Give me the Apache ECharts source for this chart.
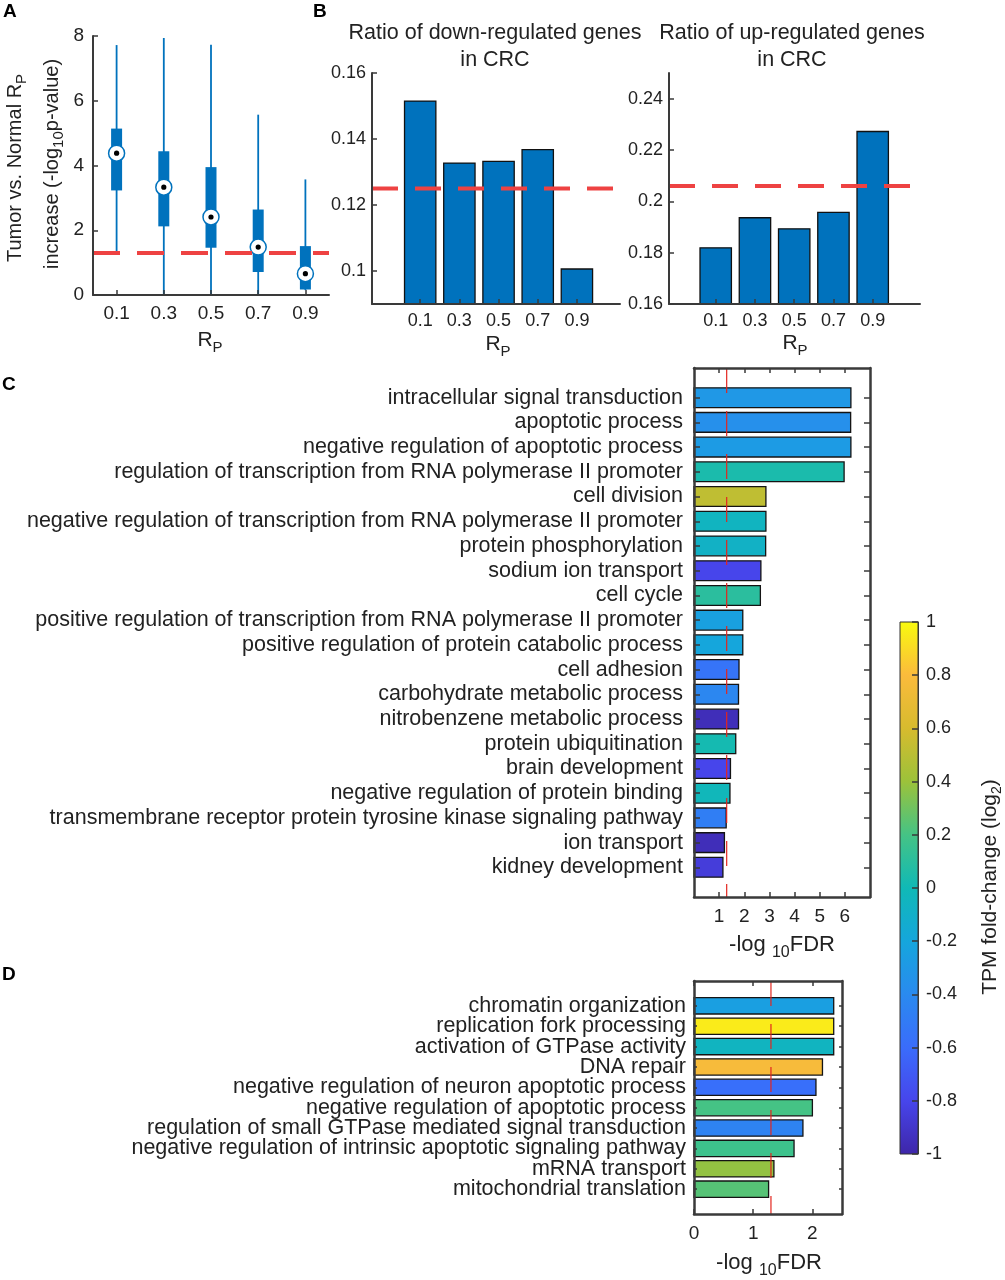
<!DOCTYPE html>
<html>
<head>
<meta charset="utf-8">
<title>CRC Rp figure</title>
<script src="https://cdn.jsdelivr.net/npm/echarts@6.0.0/dist/echarts.min.js"></script>
<style>
  html, body { margin: 0; padding: 0; background: #fff; }
  #chart { width: 1005px; height: 1280px; }
</style>
</head>
<body>
<div id="chart"></div>
<script>
// ---------- data ----------
var rpValues = [0.1, 0.3, 0.5, 0.7, 0.9];

// A - tumor vs normal Rp increase, box summary (-log10 p)
var boxWhiskerLow  = [1.28, 0, 0, 0, 0.15];
var boxQ1          = [3.23, 2.12, 1.46, 0.71, 0.17];
var boxMedian      = [4.38, 3.33, 2.41, 1.48, 0.66];
var boxQ3          = [5.14, 4.44, 3.95, 2.64, 1.51];
var boxWhiskerHigh = [7.72, 7.94, 7.73, 5.57, 3.57];
var pCut = 1.3;
var aTicksY = [0, 2, 4, 6, 8];

// B - ratio of down / up regulated genes
var downRatio = [0.1515, 0.1327, 0.1332, 0.1368, 0.1006];
var downAll = 0.125;
var downTicksY = [0.1, 0.12, 0.14, 0.16];
var upRatio = [0.1819, 0.1936, 0.1893, 0.1957, 0.2272];
var upAll = 0.206;
var upTicksY = [0.16, 0.18, 0.2, 0.22, 0.24];

// C - GO terms, -log10 FDR and TPM fold-change (log2)
var cTerms = [
  'intracellular signal transduction',
  'apoptotic process',
  'negative regulation of apoptotic process',
  'regulation of transcription from RNA polymerase II promoter',
  'cell division',
  'negative regulation of transcription from RNA polymerase II promoter',
  'protein phosphorylation',
  'sodium ion transport',
  'cell cycle',
  'positive regulation of transcription from RNA polymerase II promoter',
  'positive regulation of protein catabolic process',
  'cell adhesion',
  'carbohydrate metabolic process',
  'nitrobenzene metabolic process',
  'protein ubiquitination',
  'brain development',
  'negative regulation of protein binding',
  'transmembrane receptor protein tyrosine kinase signaling pathway',
  'ion transport',
  'kidney development'
];
var cFdr  = [6.24, 6.23, 6.24, 5.97, 2.86, 2.86, 2.85, 2.66, 2.64, 1.94,
             1.94, 1.79, 1.77, 1.77, 1.66, 1.45, 1.43, 1.28, 1.21, 1.15];
var cFold = [-0.30, -0.36, -0.28, 0.04, 0.52, -0.05, -0.08, -0.80, 0.10, -0.24,
             -0.20, -0.55, -0.42, -0.95, 0.02, -0.80, -0.02, -0.48, -0.95, -0.85];
var cTicksX = [1, 2, 3, 4, 5, 6];

// D
var dTerms = [
  'chromatin organization',
  'replication fork processing',
  'activation of GTPase activity',
  'DNA repair',
  'negative regulation of neuron apoptotic process',
  'negative regulation of apoptotic process',
  'regulation of small GTPase mediated signal transduction',
  'negative regulation of intrinsic apoptotic signaling pathway',
  'mRNA transport',
  'mitochondrial translation'
];
var dFdr  = [2.36, 2.36, 2.36, 2.17, 2.06, 2.00, 1.84, 1.69, 1.35, 1.26];
var dFold = [-0.25, 0.95, -0.05, 0.78, -0.58, 0.20, -0.45, 0.17, 0.38, 0.24];
var dTicksX = [0, 1, 2];

var fdrCut = 1.3;

// colour bar
var cbTicks = [-1, -0.8, -0.6, -0.4, -0.2, 0, 0.2, 0.4, 0.6, 0.8, 1];
var parula = ['#3e26a8', '#4745eb', '#3a6cfb', '#2a8aef', '#15a6dc', '#10b9b6',
              '#45c385', '#9cc23a', '#d7bb2e', '#fbbb3c', '#f9fb0e'];

// ---------- helpers ----------
var font = 'Liberation Sans, Arial, sans-serif';
var ink = '#222';
var axisInk = '#3a3a3a';
var blue = '#0072BD';
var red = '#ee4242';

function idx(n) { var a = []; for (var i = 0; i < n; i++) a.push(i); return a; }
function fmtNum(v) { return String(+(+v).toFixed(2)); }

function mkAxis(grid, pos, min, max, o) {
  o = o || {};
  var a = {
    type: 'value', gridIndex: grid, position: pos, min: min, max: max,
    inverse: !!o.inverse, z: 6,
    axisLine: { show: o.line !== false, onZero: false, lineStyle: { color: axisInk, width: o.lineWidth || 2 } },
    axisTick: { show: o.tickShow !== false, inside: true, length: o.tickLen || 5, lineStyle: { color: axisInk, width: 1.5 } },
    axisLabel: { show: o.labels !== false, color: ink, fontFamily: font, fontSize: o.fontSize || 18,
                 margin: o.margin == null ? 8 : o.margin, formatter: o.formatter || fmtNum,
                 showMinLabel: true, showMaxLabel: true, hideOverlap: false },
    splitLine: { show: false }
  };
  if (o.ticks) { a.axisTick.customValues = o.ticks; a.axisLabel.customValues = o.labelValues || o.ticks; }
  return a;
}

function renderBox(params, api) {
  var x = api.value(0);
  var lo = api.coord([x, api.value(1)]);
  var q1 = api.coord([x, api.value(2)]);
  var md = api.coord([x, api.value(3)]);
  var q3 = api.coord([x, api.value(4)]);
  var hi = api.coord([x, api.value(5)]);
  return { type: 'group', children: [
    { type: 'line', shape: { x1: lo[0], y1: lo[1], x2: hi[0], y2: hi[1] }, style: { stroke: blue, lineWidth: 1.8 } },
    { type: 'rect', shape: { x: q1[0] - 5.5, y: q3[1], width: 11, height: q1[1] - q3[1] }, style: { fill: blue } },
    { type: 'circle', shape: { cx: md[0], cy: md[1], r: 8 }, style: { fill: '#fff', stroke: blue, lineWidth: 1.5 } },
    { type: 'circle', shape: { cx: md[0], cy: md[1], r: 2.6 }, style: { fill: '#000' } }
  ]};
}

// vertical bars for B, from the bottom of the plot box
function renderVBar(params, api) {
  var x = api.value(0);
  var top = api.coord([x, api.value(1)]);
  var w = api.size([0.16, 0])[0];
  var base = params.coordSys.y + params.coordSys.height;
  return { type: 'rect', shape: { x: top[0] - w / 2, y: top[1], width: w, height: base - top[1] },
           style: { fill: blue, stroke: '#111', lineWidth: 1.3 } };
}

// horizontal bars for C and D, coloured by the visualMap
function renderHBar(params, api) {
  var v = api.value(0), i = api.value(1);
  var a = api.coord([0, i - 0.4]), b = api.coord([v, i + 0.4]);
  return { type: 'rect',
           shape: { x: a[0], y: Math.min(a[1], b[1]), width: b[0] - a[0], height: Math.abs(b[1] - a[1]) },
           style: { fill: api.visual('color'), stroke: '#141414', lineWidth: 1.3 } };
}

function renderColorbar(params, api) {
  var p0 = api.coord([api.value(0), api.value(1)]);
  var p1 = api.coord([api.value(2), api.value(3)]);
  var stops = parula.map(function (c, i) { return { offset: i / (parula.length - 1), color: c }; });
  return { type: 'rect',
           shape: { x: p0[0], y: p1[1], width: p1[0] - p0[0], height: p0[1] - p1[1] },
           style: { fill: new echarts.graphic.LinearGradient(0, 1, 0, 0, stops), stroke: '#333', lineWidth: 1 } };
}

function rich(size, subSize) {
  return {
    t: { fontSize: size, fontFamily: font, fill: ink, lineHeight: size + 4, verticalAlign: 'middle' },
    s: { fontSize: subSize, fontFamily: font, fill: ink, lineHeight: subSize, padding: [size - 6, 0, 0, 0] }
  };
}
function label(x, y, text, size, subSize, rot) {
  return { type: 'text', x: x, y: y, rotation: rot || 0, z: 20,
           style: { text: text, rich: rich(size, subSize || 15), fill: ink,
                    fontSize: size, fontFamily: font,
                    align: 'center', verticalAlign: 'middle',
                    textAlign: 'center', textVerticalAlign: 'middle' } };
}
function letter(x, y, ch) {
  return { type: 'text', x: x, y: y, z: 20,
           style: { text: ch, fill: '#000', font: 'bold 19px ' + font,
                    align: 'left', verticalAlign: 'middle', textAlign: 'left', textVerticalAlign: 'middle' } };
}
function title(x, y, text) {
  return { type: 'text', x: x, y: y, z: 20,
           style: { text: text, fill: ink, fontSize: 21.5, fontFamily: font, lineHeight: 27,
                    align: 'center', verticalAlign: 'middle', textAlign: 'center', textVerticalAlign: 'middle' } };
}

// ---------- ranges ----------
var aX = [0, 1], aY = [0, 8];
var bLX = [-0.146, 1.12], bLY = [0.09, 0.16];
var bRX = [-0.138, 1.141], bRY = [0.16, 0.25];
var cX = [0, 7], cY = [-1.2, cTerms.length - 1 + 1.2];
var dX = [0, 2.5], dY = [-1.22, dTerms.length - 1 + 1.22];

var cIdx = idx(cTerms.length), dIdx = idx(dTerms.length);
// D rows are tighter than the font, so labels go on two stacked axes (even / odd rows)
var dEven = dIdx.filter(function (i) { return i % 2 === 0; });
var dOdd = dIdx.filter(function (i) { return i % 2 === 1; });
var dFmt = function (v) { return dTerms[Math.round(v)]; };

var option = {
  animation: false,
  backgroundColor: '#fff',
  textStyle: { fontFamily: font, color: ink },
  grid: [
    { left: 93,  top: 36,  width: 236, height: 259, outerBoundsMode: 'none' },
    { left: 372, top: 73,  width: 248, height: 231, outerBoundsMode: 'none' },
    { left: 669, top: 73,  width: 251, height: 231, outerBoundsMode: 'none' },
    { left: 694, top: 368, width: 176, height: 529, outerBoundsMode: 'none' },
    { left: 694, top: 981, width: 148, height: 233, outerBoundsMode: 'none' },
    { left: 900, top: 622, width: 18,  height: 532, outerBoundsMode: 'none' }
  ],
  xAxis: [
    mkAxis(0, 'bottom', aX[0], aX[1], { ticks: rpValues, fontSize: 19, margin: 9 }),
    mkAxis(1, 'bottom', bLX[0], bLX[1], { ticks: rpValues, fontSize: 18, margin: 8 }),
    mkAxis(2, 'bottom', bRX[0], bRX[1], { ticks: rpValues, fontSize: 18, margin: 8 }),
    mkAxis(3, 'bottom', cX[0], cX[1], { ticks: cTicksX, fontSize: 19, margin: 10, lineWidth: 2.5 }),
    mkAxis(3, 'top', cX[0], cX[1], { ticks: cTicksX, labels: false, lineWidth: 2.5 }),
    mkAxis(4, 'bottom', dX[0], dX[1], { ticks: dTicksX, fontSize: 19, margin: 10, lineWidth: 2.5 }),
    mkAxis(4, 'top', dX[0], dX[1], { ticks: dTicksX, labels: false, lineWidth: 2.5 }),
    { type: 'value', gridIndex: 5, min: 0, max: 1, show: false }
  ],
  yAxis: [
    mkAxis(0, 'left', aY[0], aY[1], { ticks: aTicksY, fontSize: 19, margin: 9 }),
    mkAxis(1, 'left', bLY[0], bLY[1], { ticks: downTicksY, fontSize: 18, margin: 6 }),
    mkAxis(2, 'left', bRY[0], bRY[1], { ticks: upTicksY, fontSize: 18, margin: 6 }),
    mkAxis(3, 'left', cY[0], cY[1], { inverse: true, ticks: cIdx, fontSize: 21.5, margin: 11, tickLen: 6, lineWidth: 2.5,
      formatter: function (v) { return cTerms[Math.round(v)]; } }),
    mkAxis(3, 'right', cY[0], cY[1], { inverse: true, ticks: cIdx, labels: false, tickLen: 6, lineWidth: 2.5 }),
    mkAxis(4, 'left', dY[0], dY[1], { inverse: true, ticks: dIdx, labelValues: dEven, fontSize: 21.5, margin: 8,
      tickLen: 3, lineWidth: 2.5, formatter: dFmt }),
    mkAxis(4, 'right', dY[0], dY[1], { inverse: true, ticks: dIdx, labels: false, tickLen: 3, lineWidth: 2.5 }),
    mkAxis(5, 'right', -1, 1, { ticks: cbTicks, fontSize: 18, margin: 8, tickLen: 6, lineWidth: 1 }),
    mkAxis(4, 'left', dY[0], dY[1], { inverse: true, ticks: dOdd, fontSize: 21.5, margin: 8,
      line: false, tickShow: false, formatter: dFmt })
  ],
  visualMap: {
    type: 'continuous', show: false, min: -1, max: 1, dimension: 2,
    seriesIndex: [6, 8],
    inRange: { color: parula }
  },
  series: [
    // 0: A boxes
    { type: 'custom', xAxisIndex: 0, yAxisIndex: 0, z: 2, renderItem: renderBox,
      encode: { x: 0, y: [1, 2, 3, 4, 5] },
      data: rpValues.map(function (x, i) {
        return [x, boxWhiskerLow[i], boxQ1[i], boxMedian[i], boxQ3[i], boxWhiskerHigh[i]];
      }) },
    // 1: A threshold
    { type: 'line', xAxisIndex: 0, yAxisIndex: 0, z: 5, symbol: 'none', silent: true,
      data: [[aX[0], pCut], [aX[1], pCut]],
      lineStyle: { color: red, width: 4, type: [27, 17] } },
    // 2: B down bars
    { type: 'custom', xAxisIndex: 1, yAxisIndex: 1, z: 2, renderItem: renderVBar,
      data: rpValues.map(function (x, i) { return [x, downRatio[i]]; }) },
    // 3: B down overall
    { type: 'line', xAxisIndex: 1, yAxisIndex: 1, z: 5, symbol: 'none', silent: true,
      data: [[bLX[0], downAll], [bLX[1], downAll]],
      lineStyle: { color: red, width: 4, type: [26, 17] } },
    // 4: B up bars
    { type: 'custom', xAxisIndex: 2, yAxisIndex: 2, z: 2, renderItem: renderVBar,
      data: rpValues.map(function (x, i) { return [x, upRatio[i]]; }) },
    // 5: B up overall
    { type: 'line', xAxisIndex: 2, yAxisIndex: 2, z: 5, symbol: 'none', silent: true,
      data: [[bRX[0], upAll], [bRX[1], upAll]],
      lineStyle: { color: red, width: 4, type: [26, 17] } },
    // 6: C bars
    { type: 'custom', xAxisIndex: 3, yAxisIndex: 3, z: 2, renderItem: renderHBar,
      encode: { x: 0, y: 1 },
      data: cTerms.map(function (t, i) { return [cFdr[i], i, cFold[i]]; }) },
    // 7: C FDR cut
    { type: 'line', xAxisIndex: 3, yAxisIndex: 3, z: 5, symbol: 'none', silent: true,
      data: [[fdrCut, cY[0]], [fdrCut, cY[1]]],
      lineStyle: { color: '#e3261f', width: 1.2, type: [25, 18] } },
    // 8: D bars
    { type: 'custom', xAxisIndex: 5, yAxisIndex: 5, z: 2, renderItem: renderHBar,
      encode: { x: 0, y: 1 },
      data: dTerms.map(function (t, i) { return [dFdr[i], i, dFold[i]]; }) },
    // 9: D FDR cut
    { type: 'line', xAxisIndex: 5, yAxisIndex: 5, z: 5, symbol: 'none', silent: true,
      data: [[fdrCut, dY[0]], [fdrCut, dY[1]]],
      lineStyle: { color: '#e3261f', width: 1.2, type: [25, 18] } },
    // 10: colour bar
    { type: 'custom', xAxisIndex: 7, yAxisIndex: 7, z: 2, renderItem: renderColorbar,
      encode: { x: [0, 2], y: [1, 3] },
      data: [[0, cbTicks[0], 1, cbTicks[cbTicks.length - 1]]] }
  ],
  graphic: [
    letter(3, 12, 'A'), letter(313, 12, 'B'), letter(2, 385, 'C'), letter(2, 975, 'D'),
    label(15, 168, '{t|Tumor vs. Normal R}{s|P}', 20, 15, Math.PI / 2),
    label(52, 164, '{t|increase (-log}{s|10}{t|p-value)}', 20, 15, Math.PI / 2),
    label(210, 340, '{t|R}{s|P}', 21, 15),
    label(498, 344, '{t|R}{s|P}', 21, 15),
    label(795, 343, '{t|R}{s|P}', 21, 15),
    title(495, 47, 'Ratio of down-regulated genes\nin CRC'),
    title(792, 47, 'Ratio of up-regulated genes\nin CRC'),
    label(782, 945, '{t|-log }{s|10}{t|FDR}', 22, 16),
    label(769, 1263, '{t|-log }{s|10}{t|FDR}', 22, 16),
    label(990, 887, '{t|TPM fold-change (log}{s|2}{t|)}', 21, 14, Math.PI / 2)
  ]
};

var chart = echarts.init(document.getElementById('chart'), null, { renderer: 'canvas' });
chart.setOption(option);
</script>
</body>
</html>
